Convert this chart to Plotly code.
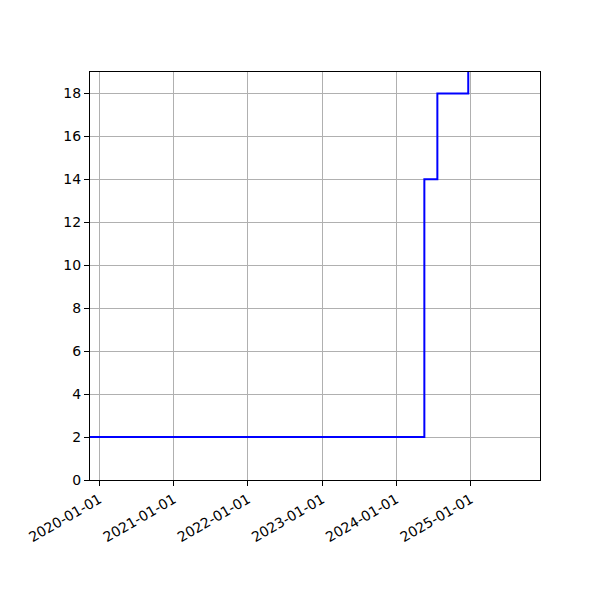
import plotly.graph_objects as go

# step dates and values
dates = ["2019-11-16", "2024-05-18", "2024-07-21", "2024-12-20"]
values = [2, 14, 18, 19]

tick_dates = ["2020-01-01", "2021-01-01", "2022-01-01", "2023-01-01", "2024-01-01", "2025-01-01"]
y_ticks = [0, 2, 4, 6, 8, 10, 12, 14, 16, 18]

fig = go.Figure()
fig.add_trace(
    go.Scatter(
        x=dates,
        y=values,
        mode="lines",
        line=dict(color="blue", width=2, shape="hv"),
        showlegend=False,
    )
)

axis_style = dict(
    showline=True,
    linecolor="black",
    linewidth=1,
    mirror=True,
    ticks="outside",
    ticklen=5,
    tickcolor="black",
    showgrid=True,
    gridcolor="#b0b0b0",
    gridwidth=1,
    zeroline=False,
    automargin=False,
    tickfont=dict(family="DejaVu Sans", size=14, color="black"),
)

fig.update_xaxes(
    type="date",
    range=["2019-11-16", "2025-12-08"],
    tickvals=tick_dates,
    ticktext=tick_dates,
    tickangle=-30,
    **axis_style,
)
fig.update_yaxes(
    range=[0, 19],
    tickvals=y_ticks,
    **axis_style,
)

# page body has an 8px margin, so shift the plot area back up/left
fig.update_layout(
    width=600,
    height=600,
    margin=dict(l=82, r=68, t=64, b=128),
    plot_bgcolor="white",
    paper_bgcolor="white",
    font=dict(family="DejaVu Sans"),
)

fig.write_html("out.html")
